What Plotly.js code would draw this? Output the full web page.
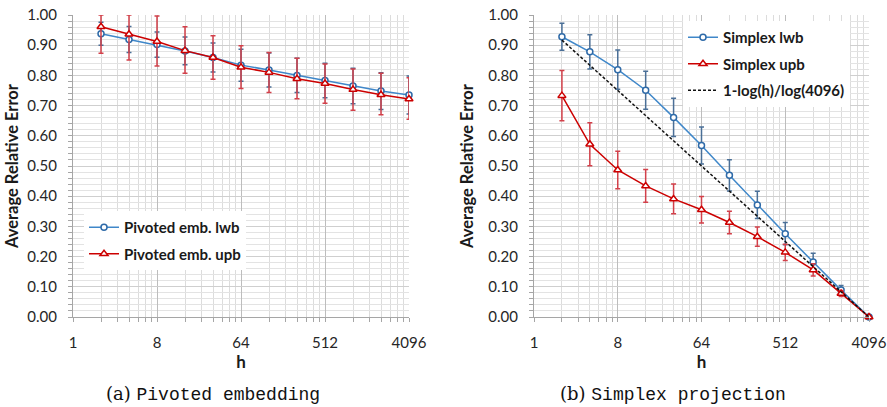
<!DOCTYPE html>
<html><head><meta charset="utf-8">
<script src="https://cdn.plot.ly/plotly-3.0.1.min.js"></script>
<style>html,body{margin:0;padding:0;background:#fff}</style>
</head><body><div id="chart" style="width:887px;height:407px"></div>
<script>
// ---- data ----
const h = [2, 4, 8, 16, 32, 64, 128, 256, 512, 1024, 2048, 4096];
const xTickVals = [1, 8, 64, 512, 4096];
const xTickText = ['1', '8', '64', '512', '4096'];
const yTickVals = [0, 0.1, 0.2, 0.3, 0.4, 0.5, 0.6, 0.7, 0.8, 0.9, 1.0];

const pivLwb = [0.938, 0.919, 0.902, 0.881, 0.859, 0.834, 0.818, 0.800, 0.783, 0.765, 0.748, 0.735];
const pivLwbErr = [0.038, 0.043, 0.042, 0.046, 0.048, 0.053, 0.056, 0.057, 0.057, 0.059, 0.061, 0.063];
const pivUpb = [0.961, 0.936, 0.912, 0.882, 0.859, 0.827, 0.810, 0.789, 0.773, 0.753, 0.736, 0.722];
const pivUpbErrPlus = [0.039, 0.064, 0.085, 0.079, 0.072, 0.071, 0.066, 0.068, 0.065, 0.068, 0.071, 0.070];
const pivUpbErrMinus = [0.088, 0.085, 0.081, 0.075, 0.072, 0.070, 0.067, 0.066, 0.065, 0.068, 0.066, 0.067];

const simLwb = [0.928, 0.878, 0.819, 0.751, 0.661, 0.568, 0.469, 0.371, 0.276, 0.182, 0.089, 0.000];
const simLwbErr = [0.045, 0.057, 0.065, 0.063, 0.063, 0.061, 0.052, 0.045, 0.037, 0.029, 0.015, 0.000];
const simUpb = [0.733, 0.572, 0.487, 0.434, 0.391, 0.355, 0.313, 0.266, 0.214, 0.156, 0.078, 0.000];
const simUpbErr = [0.083, 0.071, 0.062, 0.054, 0.049, 0.044, 0.037, 0.032, 0.027, 0.020, 0.010, 0.000];
const refLine = [0.917, 0.833, 0.750, 0.667, 0.583, 0.500, 0.417, 0.333, 0.250, 0.167, 0.083, 0.000];

// ---- style ----
const BLUE = '#3f87c9', BLUE_MK = '#2e6aa8', BLUE_ERR = '#4a6f97';
const RED = '#cc0000', RED_ERR = '#d2404a';
const FONT = 'Lato, "Open Sans", sans-serif';

// minor log gridlines (Excel style: integer multiples inside each major interval)
const minorX = [];
for (const base of [1, 8, 64, 512]) {
  for (let k = 2; k <= 7; k++) minorX.push(base * k);
}

function xAxis(domain, anchor) {
  return {
    domain: domain, anchor: anchor, type: 'log',
    range: [0, Math.log10(4096)],
    tickmode: 'array', tickvals: xTickVals, ticktext: xTickText,
    showgrid: true, gridcolor: '#bdbdbd', gridwidth: 1,
    minor: {tickmode: 'array', tickvals: minorX, showgrid: true, gridcolor: '#dcdcdc',
            ticks: 'outside', ticklen: 4, tickcolor: '#a6a6a6'},
    ticks: 'outside', ticklen: 4, tickcolor: '#a6a6a6',
    showline: true, linecolor: '#a6a6a6', linewidth: 1, zeroline: false,
    tickfont: {family: FONT, size: 15, color: '#262626'},
    ticklabelstandoff: 8,
    title: {text: '<b>h</b>', font: {family: FONT, size: 17, color: '#1a1a1a'}, standoff: 6}
  };
}
function yAxis(anchor, standoff) {
  return {
    domain: [1 - 317 / 407, 1 - 15 / 407], anchor: anchor,
    range: [0, 1],
    tickmode: 'array', tickvals: yTickVals, tickformat: '.2f',
    showgrid: true, gridcolor: '#cfcfcf', gridwidth: 1,
    minor: {dtick: 0.02, showgrid: true, gridcolor: '#e3e3e3',
            ticks: 'outside', ticklen: 4, tickcolor: '#a6a6a6'},
    ticks: 'outside', ticklen: 4, tickcolor: '#a6a6a6',
    showline: true, linecolor: '#a6a6a6', linewidth: 1, zeroline: false,
    tickfont: {family: FONT, size: 15, color: '#262626'},
    ticklabelstandoff: 8,
    title: {text: '<b>Average Relative Error</b>', font: {family: FONT, size: 16.5, color: '#1a1a1a'}, standoff: standoff}
  };
}

const blueMarker = {symbol: 'circle', size: 6, color: '#ffffff', line: {width: 1.5, color: BLUE_MK}};
const redMarker = {symbol: 'triangle-up', size: 7, color: '#ffffff', line: {width: 1.5, color: RED}};

const traces = [
  {x: h, y: pivLwb, xaxis: 'x', yaxis: 'y', name: 'Pivoted emb. lwb', legend: 'legend',
   legendgroup: 'a1', mode: 'lines+markers', cliponaxis: false,
   line: {color: BLUE, width: 1.5}, marker: blueMarker,
   error_y: {type: 'data', array: pivLwbErr, visible: true, color: BLUE_ERR, thickness: 1.5, width: 2.5}},
  {x: h, y: pivUpb, xaxis: 'x', yaxis: 'y', name: 'Pivoted emb. upb', legend: 'legend',
   legendgroup: 'a2', mode: 'lines+markers', cliponaxis: false,
   line: {color: RED, width: 1.5}, marker: redMarker,
   error_y: {type: 'data', symmetric: false, array: pivUpbErrPlus, arrayminus: pivUpbErrMinus,
             visible: true, color: RED_ERR, thickness: 1.5, width: 2.5}},
  {x: h, y: simLwb, xaxis: 'x2', yaxis: 'y2', name: 'Simplex lwb', legend: 'legend2',
   legendgroup: 'b1', mode: 'lines+markers', cliponaxis: false,
   line: {color: BLUE, width: 1.5}, marker: blueMarker,
   error_y: {type: 'data', array: simLwbErr, visible: true, color: BLUE_ERR, thickness: 1.5, width: 2.5}},
  {x: h, y: simUpb, xaxis: 'x2', yaxis: 'y2', name: 'Simplex upb', legend: 'legend2',
   legendgroup: 'b2', mode: 'lines+markers', cliponaxis: false,
   line: {color: RED, width: 1.5}, marker: redMarker,
   error_y: {type: 'data', array: simUpbErr, visible: true, color: RED_ERR, thickness: 1.5, width: 2.5}},
  {x: h, y: refLine, xaxis: 'x2', yaxis: 'y2', name: '1-log(h)/log(4096)', legend: 'legend2',
   legendgroup: 'b3', mode: 'lines', cliponaxis: false,
   line: {color: '#111111', width: 1.5, dash: '3px,2px'}}
];

const legendBase = {
  bgcolor: '#ffffff', borderwidth: 0,
  font: {family: FONT, size: 15, color: '#1a1a1a', weight: 'bold'},
  traceorder: 'grouped', tracegroupgap: 4, xanchor: 'left', yanchor: 'top',
  xref: 'paper', yref: 'paper'
};

const layout = {
  width: 887, height: 407,
  margin: {l: 0, r: 0, t: 0, b: 0},
  paper_bgcolor: '#ffffff', plot_bgcolor: '#ffffff',
  showlegend: true,
  xaxis: xAxis([73 / 887, 409 / 887], 'y'),
  yaxis: yAxis('x', 4),
  xaxis2: xAxis([534 / 887, 869 / 887], 'y2'),
  yaxis2: yAxis('x2', 10),
  legend: Object.assign({}, legendBase, {x: 84 / 887, y: 1 - 211 / 407}),
  legend2: Object.assign({}, legendBase, {x: 683 / 887, y: 1 - 21 / 407}),
  annotations: [
    {text: '(a) <span style="font-family:\'Liberation Mono\', monospace">Pivoted embedding</span>',
     xref: 'paper', yref: 'paper', x: 213 / 887, y: 1 - 394 / 407, xanchor: 'center', yanchor: 'middle',
     showarrow: false, font: {family: '"DejaVu Serif", serif', size: 18, color: '#111111'}},
    {text: '(b) <span style="font-family:\'Liberation Mono\', monospace">Simplex projection</span>',
     xref: 'paper', yref: 'paper', x: 673 / 887, y: 1 - 394 / 407, xanchor: 'center', yanchor: 'middle',
     showarrow: false, font: {family: '"DejaVu Serif", serif', size: 18, color: '#111111'}}
  ]
};

Plotly.newPlot('chart', traces, layout, {displayModeBar: false, staticPlot: true});
</script>
</body></html>
